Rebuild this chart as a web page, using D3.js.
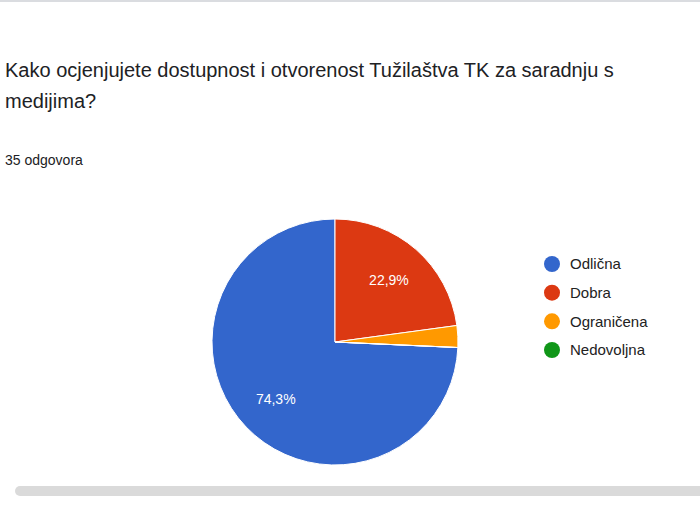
<!DOCTYPE html>
<html lang="hr">
<head>
<meta charset="UTF-8">
<title>Pie</title>
<style>
    body { margin: 0; background: #fff; font-family: Arial, "Liberation Sans", sans-serif; }
    .title { font-size: 20px; fill: #202124; }
    .sub { font-size: 14px; fill: #202124; }
    .legend text { font-size: 15px; fill: #222; }
    .pct { font-size: 14px; fill: #fff; text-anchor: middle; }
</style>
</head>
<body>
<svg id="chart" width="700" height="525"></svg>
<script src="https://cdn.jsdelivr.net/npm/d3@7"></script>
<script>
    let categories = ["Odlična", "Dobra", "Ograničena", "Nedovoljna"];
    let values = [26, 8, 1, 0];
    let colors = ["#3366cc", "#dc3912", "#ff9900", "#109618"];
    let titleLines = ["Kako ocjenjujete dostupnost i otvorenost Tužilaštva TK za saradnju s", "medijima?"];
    let subtitle = "35 odgovora";

    let svg = d3.select("#chart");

    svg.append("rect").attr("x", 0).attr("y", 0).attr("width", 700).attr("height", 2).attr("fill", "#dadce0");
    svg.append("rect").attr("x", 15).attr("y", 486).attr("width", 700).attr("height", 10).attr("rx", 5).attr("fill", "#dadada");

    svg.selectAll(".title").data(titleLines).enter().append("text")
        .attr("class", "title").attr("x", 5).attr("y", (d, i) => 77 + i * 31).text(d => d);
    svg.append("text").attr("class", "sub").attr("x", 5).attr("y", 165).text(subtitle);

    let total = d3.sum(values);
    let start = -2 * Math.PI * values[0] / total;
    let pie = d3.pie().sort(null).startAngle(start).endAngle(start + 2 * Math.PI);
    let arc = d3.arc().innerRadius(0).outerRadius(123);
    let labelArc = d3.arc().innerRadius(82).outerRadius(82);

    let g = svg.append("g").attr("transform", "translate(335, 342)");
    let arcs = pie(values);
    g.selectAll("path").data(arcs).enter().append("path")
        .attr("d", arc).attr("fill", (d, i) => colors[i])
        .attr("stroke", "#fff").attr("stroke-width", 1);
    g.selectAll(".pct").data(arcs.filter(d => d.value / total > 0.05)).enter().append("text")
        .attr("class", "pct")
        .attr("transform", d => "translate(" + labelArc.centroid(d) + ")")
        .attr("dy", "0.35em")
        .text(d => (d.value / total * 100).toFixed(1).replace(".", ",") + "%");

    let y = d3.scalePoint().domain(categories).range([264, 350]);
    let lg = svg.append("g").attr("class", "legend");
    let items = lg.selectAll("g").data(categories).enter().append("g")
        .attr("transform", d => "translate(552," + y(d) + ")");
    items.append("circle").attr("r", 8).attr("fill", (d, i) => colors[i]);
    items.append("text").attr("x", 18).attr("dy", "0.35em").text(d => d);
</script>
</body>
</html>
